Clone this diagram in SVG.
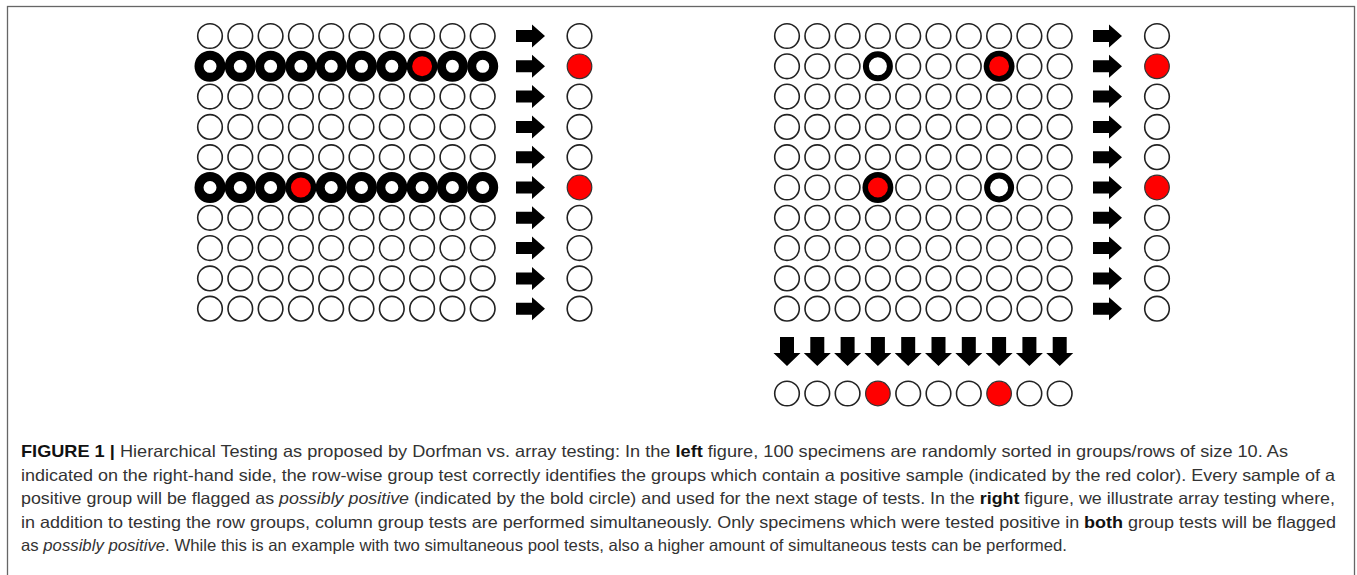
<svg xmlns="http://www.w3.org/2000/svg" xmlns:xlink="http://www.w3.org/1999/xlink" width="1357" height="575" viewBox="0 0 1357 575">
<style>
.n{fill:#fff;stroke:#222;stroke-width:1.6}
.bw{fill:#fff;stroke:#000;stroke-width:9}
.bwr{fill:#fff;stroke:#000;stroke-width:6}
.br{fill:#f00;stroke:#000;stroke-width:5.5}
.rr{fill:#f00;stroke:#333;stroke-width:1.2}
.arr{fill:#000}
.cap{font-family:"Liberation Sans",Arial,sans-serif;font-size:16.5px;fill:#333}
.b{font-weight:bold;fill:#111}
.i{font-style:italic}
</style>
<defs>
<path id="ra" d="M0,-6 H16 V-11.5 L29,0 L16,11.5 V6 H0 Z"/>
<path id="da" d="M-7,0 H7 V16 H13.5 L0,29 L-13.5,16 H-7 Z"/>
</defs>
<rect x="7.5" y="6.5" width="1347" height="620" fill="#fff" stroke="#666" stroke-width="1.3"/>

<g id="left-grid">
<g id="L-r1"><circle class="n" cx="210" cy="36" r="12.3"/><circle class="n" cx="240.3" cy="36" r="12.3"/><circle class="n" cx="270.6" cy="36" r="12.3"/><circle class="n" cx="300.9" cy="36" r="12.3"/><circle class="n" cx="331.2" cy="36" r="12.3"/><circle class="n" cx="361.5" cy="36" r="12.3"/><circle class="n" cx="391.8" cy="36" r="12.3"/><circle class="n" cx="422.1" cy="36" r="12.3"/><circle class="n" cx="452.4" cy="36" r="12.3"/><circle class="n" cx="482.7" cy="36" r="12.3"/></g>
<g id="L-r2"><circle class="bw" cx="210" cy="66.3" r="11"/><circle class="bw" cx="240.3" cy="66.3" r="11"/><circle class="bw" cx="270.6" cy="66.3" r="11"/><circle class="bw" cx="300.9" cy="66.3" r="11"/><circle class="bw" cx="331.2" cy="66.3" r="11"/><circle class="bw" cx="361.5" cy="66.3" r="11"/><circle class="bw" cx="391.8" cy="66.3" r="11"/><circle class="bw" cx="452.4" cy="66.3" r="11"/><circle class="bw" cx="482.7" cy="66.3" r="11"/><circle class="br" cx="422.1" cy="66.3" r="12.7"/></g>
<g id="L-r3"><circle class="n" cx="210" cy="96.6" r="12.3"/><circle class="n" cx="240.3" cy="96.6" r="12.3"/><circle class="n" cx="270.6" cy="96.6" r="12.3"/><circle class="n" cx="300.9" cy="96.6" r="12.3"/><circle class="n" cx="331.2" cy="96.6" r="12.3"/><circle class="n" cx="361.5" cy="96.6" r="12.3"/><circle class="n" cx="391.8" cy="96.6" r="12.3"/><circle class="n" cx="422.1" cy="96.6" r="12.3"/><circle class="n" cx="452.4" cy="96.6" r="12.3"/><circle class="n" cx="482.7" cy="96.6" r="12.3"/></g>
<g id="L-r4"><circle class="n" cx="210" cy="126.9" r="12.3"/><circle class="n" cx="240.3" cy="126.9" r="12.3"/><circle class="n" cx="270.6" cy="126.9" r="12.3"/><circle class="n" cx="300.9" cy="126.9" r="12.3"/><circle class="n" cx="331.2" cy="126.9" r="12.3"/><circle class="n" cx="361.5" cy="126.9" r="12.3"/><circle class="n" cx="391.8" cy="126.9" r="12.3"/><circle class="n" cx="422.1" cy="126.9" r="12.3"/><circle class="n" cx="452.4" cy="126.9" r="12.3"/><circle class="n" cx="482.7" cy="126.9" r="12.3"/></g>
<g id="L-r5"><circle class="n" cx="210" cy="157.2" r="12.3"/><circle class="n" cx="240.3" cy="157.2" r="12.3"/><circle class="n" cx="270.6" cy="157.2" r="12.3"/><circle class="n" cx="300.9" cy="157.2" r="12.3"/><circle class="n" cx="331.2" cy="157.2" r="12.3"/><circle class="n" cx="361.5" cy="157.2" r="12.3"/><circle class="n" cx="391.8" cy="157.2" r="12.3"/><circle class="n" cx="422.1" cy="157.2" r="12.3"/><circle class="n" cx="452.4" cy="157.2" r="12.3"/><circle class="n" cx="482.7" cy="157.2" r="12.3"/></g>
<g id="L-r6"><circle class="bw" cx="210" cy="187.5" r="11"/><circle class="bw" cx="240.3" cy="187.5" r="11"/><circle class="bw" cx="270.6" cy="187.5" r="11"/><circle class="bw" cx="331.2" cy="187.5" r="11"/><circle class="bw" cx="361.5" cy="187.5" r="11"/><circle class="bw" cx="391.8" cy="187.5" r="11"/><circle class="bw" cx="422.1" cy="187.5" r="11"/><circle class="bw" cx="452.4" cy="187.5" r="11"/><circle class="bw" cx="482.7" cy="187.5" r="11"/><circle class="br" cx="300.9" cy="187.5" r="12.7"/></g>
<g id="L-r7"><circle class="n" cx="210" cy="217.8" r="12.3"/><circle class="n" cx="240.3" cy="217.8" r="12.3"/><circle class="n" cx="270.6" cy="217.8" r="12.3"/><circle class="n" cx="300.9" cy="217.8" r="12.3"/><circle class="n" cx="331.2" cy="217.8" r="12.3"/><circle class="n" cx="361.5" cy="217.8" r="12.3"/><circle class="n" cx="391.8" cy="217.8" r="12.3"/><circle class="n" cx="422.1" cy="217.8" r="12.3"/><circle class="n" cx="452.4" cy="217.8" r="12.3"/><circle class="n" cx="482.7" cy="217.8" r="12.3"/></g>
<g id="L-r8"><circle class="n" cx="210" cy="248.1" r="12.3"/><circle class="n" cx="240.3" cy="248.1" r="12.3"/><circle class="n" cx="270.6" cy="248.1" r="12.3"/><circle class="n" cx="300.9" cy="248.1" r="12.3"/><circle class="n" cx="331.2" cy="248.1" r="12.3"/><circle class="n" cx="361.5" cy="248.1" r="12.3"/><circle class="n" cx="391.8" cy="248.1" r="12.3"/><circle class="n" cx="422.1" cy="248.1" r="12.3"/><circle class="n" cx="452.4" cy="248.1" r="12.3"/><circle class="n" cx="482.7" cy="248.1" r="12.3"/></g>
<g id="L-r9"><circle class="n" cx="210" cy="278.4" r="12.3"/><circle class="n" cx="240.3" cy="278.4" r="12.3"/><circle class="n" cx="270.6" cy="278.4" r="12.3"/><circle class="n" cx="300.9" cy="278.4" r="12.3"/><circle class="n" cx="331.2" cy="278.4" r="12.3"/><circle class="n" cx="361.5" cy="278.4" r="12.3"/><circle class="n" cx="391.8" cy="278.4" r="12.3"/><circle class="n" cx="422.1" cy="278.4" r="12.3"/><circle class="n" cx="452.4" cy="278.4" r="12.3"/><circle class="n" cx="482.7" cy="278.4" r="12.3"/></g>
<g id="L-r10"><circle class="n" cx="210" cy="308.7" r="12.3"/><circle class="n" cx="240.3" cy="308.7" r="12.3"/><circle class="n" cx="270.6" cy="308.7" r="12.3"/><circle class="n" cx="300.9" cy="308.7" r="12.3"/><circle class="n" cx="331.2" cy="308.7" r="12.3"/><circle class="n" cx="361.5" cy="308.7" r="12.3"/><circle class="n" cx="391.8" cy="308.7" r="12.3"/><circle class="n" cx="422.1" cy="308.7" r="12.3"/><circle class="n" cx="452.4" cy="308.7" r="12.3"/><circle class="n" cx="482.7" cy="308.7" r="12.3"/></g>
</g>
<g id="left-results">
<circle class="n" cx="579.5" cy="36" r="12.3"/><circle class="rr" cx="579.5" cy="66.3" r="12.3"/><circle class="n" cx="579.5" cy="96.6" r="12.3"/><circle class="n" cx="579.5" cy="126.9" r="12.3"/><circle class="n" cx="579.5" cy="157.2" r="12.3"/><circle class="rr" cx="579.5" cy="187.5" r="12.3"/><circle class="n" cx="579.5" cy="217.8" r="12.3"/><circle class="n" cx="579.5" cy="248.1" r="12.3"/><circle class="n" cx="579.5" cy="278.4" r="12.3"/><circle class="n" cx="579.5" cy="308.7" r="12.3"/>
</g>

<g id="right-grid">
<g id="R-r1"><circle class="n" cx="787" cy="36" r="12.3"/><circle class="n" cx="817.3" cy="36" r="12.3"/><circle class="n" cx="847.6" cy="36" r="12.3"/><circle class="n" cx="877.9" cy="36" r="12.3"/><circle class="n" cx="908.2" cy="36" r="12.3"/><circle class="n" cx="938.5" cy="36" r="12.3"/><circle class="n" cx="968.8" cy="36" r="12.3"/><circle class="n" cx="999.1" cy="36" r="12.3"/><circle class="n" cx="1029.4" cy="36" r="12.3"/><circle class="n" cx="1059.7" cy="36" r="12.3"/></g>
<g id="R-r2"><circle class="n" cx="787" cy="66.3" r="12.3"/><circle class="n" cx="817.3" cy="66.3" r="12.3"/><circle class="n" cx="847.6" cy="66.3" r="12.3"/><circle class="n" cx="908.2" cy="66.3" r="12.3"/><circle class="n" cx="938.5" cy="66.3" r="12.3"/><circle class="n" cx="968.8" cy="66.3" r="12.3"/><circle class="n" cx="1029.4" cy="66.3" r="12.3"/><circle class="n" cx="1059.7" cy="66.3" r="12.3"/><circle class="bwr" cx="877.9" cy="66.3" r="12"/><circle class="br" cx="999.1" cy="66.3" r="12.7"/></g>
<g id="R-r3"><circle class="n" cx="787" cy="96.6" r="12.3"/><circle class="n" cx="817.3" cy="96.6" r="12.3"/><circle class="n" cx="847.6" cy="96.6" r="12.3"/><circle class="n" cx="877.9" cy="96.6" r="12.3"/><circle class="n" cx="908.2" cy="96.6" r="12.3"/><circle class="n" cx="938.5" cy="96.6" r="12.3"/><circle class="n" cx="968.8" cy="96.6" r="12.3"/><circle class="n" cx="999.1" cy="96.6" r="12.3"/><circle class="n" cx="1029.4" cy="96.6" r="12.3"/><circle class="n" cx="1059.7" cy="96.6" r="12.3"/></g>
<g id="R-r4"><circle class="n" cx="787" cy="126.9" r="12.3"/><circle class="n" cx="817.3" cy="126.9" r="12.3"/><circle class="n" cx="847.6" cy="126.9" r="12.3"/><circle class="n" cx="877.9" cy="126.9" r="12.3"/><circle class="n" cx="908.2" cy="126.9" r="12.3"/><circle class="n" cx="938.5" cy="126.9" r="12.3"/><circle class="n" cx="968.8" cy="126.9" r="12.3"/><circle class="n" cx="999.1" cy="126.9" r="12.3"/><circle class="n" cx="1029.4" cy="126.9" r="12.3"/><circle class="n" cx="1059.7" cy="126.9" r="12.3"/></g>
<g id="R-r5"><circle class="n" cx="787" cy="157.2" r="12.3"/><circle class="n" cx="817.3" cy="157.2" r="12.3"/><circle class="n" cx="847.6" cy="157.2" r="12.3"/><circle class="n" cx="877.9" cy="157.2" r="12.3"/><circle class="n" cx="908.2" cy="157.2" r="12.3"/><circle class="n" cx="938.5" cy="157.2" r="12.3"/><circle class="n" cx="968.8" cy="157.2" r="12.3"/><circle class="n" cx="999.1" cy="157.2" r="12.3"/><circle class="n" cx="1029.4" cy="157.2" r="12.3"/><circle class="n" cx="1059.7" cy="157.2" r="12.3"/></g>
<g id="R-r6"><circle class="n" cx="787" cy="187.5" r="12.3"/><circle class="n" cx="817.3" cy="187.5" r="12.3"/><circle class="n" cx="847.6" cy="187.5" r="12.3"/><circle class="n" cx="908.2" cy="187.5" r="12.3"/><circle class="n" cx="938.5" cy="187.5" r="12.3"/><circle class="n" cx="968.8" cy="187.5" r="12.3"/><circle class="n" cx="1029.4" cy="187.5" r="12.3"/><circle class="n" cx="1059.7" cy="187.5" r="12.3"/><circle class="br" cx="877.9" cy="187.5" r="12.7"/><circle class="bwr" cx="999.1" cy="187.5" r="12"/></g>
<g id="R-r7"><circle class="n" cx="787" cy="217.8" r="12.3"/><circle class="n" cx="817.3" cy="217.8" r="12.3"/><circle class="n" cx="847.6" cy="217.8" r="12.3"/><circle class="n" cx="877.9" cy="217.8" r="12.3"/><circle class="n" cx="908.2" cy="217.8" r="12.3"/><circle class="n" cx="938.5" cy="217.8" r="12.3"/><circle class="n" cx="968.8" cy="217.8" r="12.3"/><circle class="n" cx="999.1" cy="217.8" r="12.3"/><circle class="n" cx="1029.4" cy="217.8" r="12.3"/><circle class="n" cx="1059.7" cy="217.8" r="12.3"/></g>
<g id="R-r8"><circle class="n" cx="787" cy="248.1" r="12.3"/><circle class="n" cx="817.3" cy="248.1" r="12.3"/><circle class="n" cx="847.6" cy="248.1" r="12.3"/><circle class="n" cx="877.9" cy="248.1" r="12.3"/><circle class="n" cx="908.2" cy="248.1" r="12.3"/><circle class="n" cx="938.5" cy="248.1" r="12.3"/><circle class="n" cx="968.8" cy="248.1" r="12.3"/><circle class="n" cx="999.1" cy="248.1" r="12.3"/><circle class="n" cx="1029.4" cy="248.1" r="12.3"/><circle class="n" cx="1059.7" cy="248.1" r="12.3"/></g>
<g id="R-r9"><circle class="n" cx="787" cy="278.4" r="12.3"/><circle class="n" cx="817.3" cy="278.4" r="12.3"/><circle class="n" cx="847.6" cy="278.4" r="12.3"/><circle class="n" cx="877.9" cy="278.4" r="12.3"/><circle class="n" cx="908.2" cy="278.4" r="12.3"/><circle class="n" cx="938.5" cy="278.4" r="12.3"/><circle class="n" cx="968.8" cy="278.4" r="12.3"/><circle class="n" cx="999.1" cy="278.4" r="12.3"/><circle class="n" cx="1029.4" cy="278.4" r="12.3"/><circle class="n" cx="1059.7" cy="278.4" r="12.3"/></g>
<g id="R-r10"><circle class="n" cx="787" cy="308.7" r="12.3"/><circle class="n" cx="817.3" cy="308.7" r="12.3"/><circle class="n" cx="847.6" cy="308.7" r="12.3"/><circle class="n" cx="877.9" cy="308.7" r="12.3"/><circle class="n" cx="908.2" cy="308.7" r="12.3"/><circle class="n" cx="938.5" cy="308.7" r="12.3"/><circle class="n" cx="968.8" cy="308.7" r="12.3"/><circle class="n" cx="999.1" cy="308.7" r="12.3"/><circle class="n" cx="1029.4" cy="308.7" r="12.3"/><circle class="n" cx="1059.7" cy="308.7" r="12.3"/></g>
</g>
<g id="right-row-results">
<circle class="n" cx="1157" cy="36" r="12.3"/><circle class="rr" cx="1157" cy="66.3" r="12.3"/><circle class="n" cx="1157" cy="96.6" r="12.3"/><circle class="n" cx="1157" cy="126.9" r="12.3"/><circle class="n" cx="1157" cy="157.2" r="12.3"/><circle class="rr" cx="1157" cy="187.5" r="12.3"/><circle class="n" cx="1157" cy="217.8" r="12.3"/><circle class="n" cx="1157" cy="248.1" r="12.3"/><circle class="n" cx="1157" cy="278.4" r="12.3"/><circle class="n" cx="1157" cy="308.7" r="12.3"/>
</g>
<g id="right-column-results">
<circle class="n" cx="787" cy="393.5" r="12.3"/><circle class="n" cx="817.3" cy="393.5" r="12.3"/><circle class="n" cx="847.6" cy="393.5" r="12.3"/><circle class="rr" cx="877.9" cy="393.5" r="12.3"/><circle class="n" cx="908.2" cy="393.5" r="12.3"/><circle class="n" cx="938.5" cy="393.5" r="12.3"/><circle class="n" cx="968.8" cy="393.5" r="12.3"/><circle class="rr" cx="999.1" cy="393.5" r="12.3"/><circle class="n" cx="1029.4" cy="393.5" r="12.3"/><circle class="n" cx="1059.7" cy="393.5" r="12.3"/>
</g>

<g id="connectors" class="arr">
<use xlink:href="#ra" x="516" y="36"/><use xlink:href="#ra" x="516" y="66.3"/><use xlink:href="#ra" x="516" y="96.6"/><use xlink:href="#ra" x="516" y="126.9"/><use xlink:href="#ra" x="516" y="157.2"/><use xlink:href="#ra" x="516" y="187.5"/><use xlink:href="#ra" x="516" y="217.8"/><use xlink:href="#ra" x="516" y="248.1"/><use xlink:href="#ra" x="516" y="278.4"/><use xlink:href="#ra" x="516" y="308.7"/>
<use xlink:href="#ra" x="1093" y="36"/><use xlink:href="#ra" x="1093" y="66.3"/><use xlink:href="#ra" x="1093" y="96.6"/><use xlink:href="#ra" x="1093" y="126.9"/><use xlink:href="#ra" x="1093" y="157.2"/><use xlink:href="#ra" x="1093" y="187.5"/><use xlink:href="#ra" x="1093" y="217.8"/><use xlink:href="#ra" x="1093" y="248.1"/><use xlink:href="#ra" x="1093" y="278.4"/><use xlink:href="#ra" x="1093" y="308.7"/>
<use xlink:href="#da" x="787" y="337"/><use xlink:href="#da" x="817.3" y="337"/><use xlink:href="#da" x="847.6" y="337"/><use xlink:href="#da" x="877.9" y="337"/><use xlink:href="#da" x="908.2" y="337"/><use xlink:href="#da" x="938.5" y="337"/><use xlink:href="#da" x="968.8" y="337"/><use xlink:href="#da" x="999.1" y="337"/><use xlink:href="#da" x="1029.4" y="337"/><use xlink:href="#da" x="1059.7" y="337"/>
</g>

<g id="caption" class="cap">
<text x="21" y="457" textLength="1267" lengthAdjust="spacingAndGlyphs"><tspan class="b">FIGURE 1 |</tspan> Hierarchical Testing as proposed by Dorfman vs. array testing: In the <tspan class="b">left</tspan> figure, 100 specimens are randomly sorted in groups/rows of size 10. As</text>
<text x="21" y="480.5" textLength="1314" lengthAdjust="spacingAndGlyphs">indicated on the right-hand side, the row-wise group test correctly identifies the groups which contain a positive sample (indicated by the red color). Every sample of a</text>
<text x="21" y="504" textLength="1314" lengthAdjust="spacingAndGlyphs">positive group will be flagged as <tspan class="i">possibly positive</tspan> (indicated by the bold circle) and used for the next stage of tests. In the <tspan class="b">right</tspan> figure, we illustrate array testing where,</text>
<text x="21" y="527.5" textLength="1315" lengthAdjust="spacingAndGlyphs">in addition to testing the row groups, column group tests are performed simultaneously. Only specimens which were tested positive in <tspan class="b">both</tspan> group tests will be flagged</text>
<text x="21" y="551" textLength="1046" lengthAdjust="spacingAndGlyphs">as <tspan class="i">possibly positive</tspan>. While this is an example with two simultaneous pool tests, also a higher amount of simultaneous tests can be performed.</text>
</g>
</svg>
